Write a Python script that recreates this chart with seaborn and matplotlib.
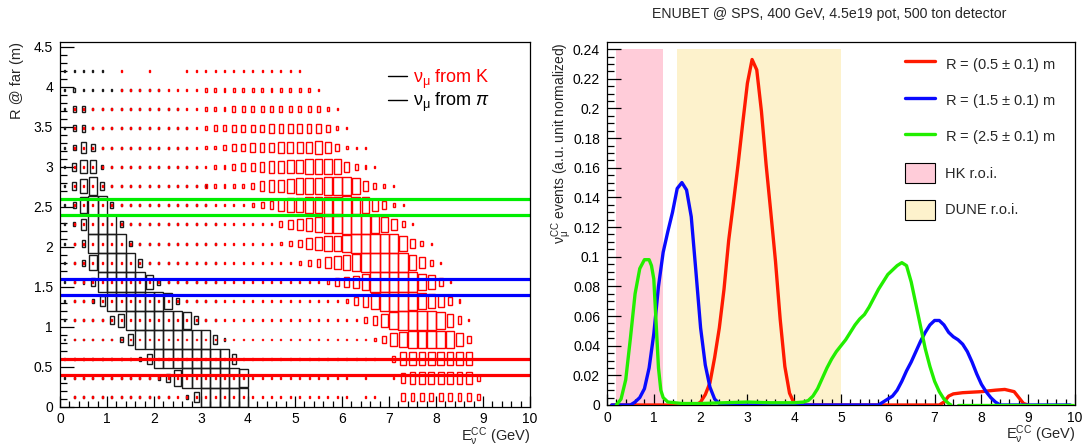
import numpy as np
import pandas as pd
import matplotlib
matplotlib.use("Agg")
import matplotlib.pyplot as plt
from matplotlib.ticker import MultipleLocator, FuncFormatter
from matplotlib.lines import Line2D
from matplotlib.patches import Patch
import seaborn as sns

# ---------------- data : left panel (2D box histograms) ----------------
E_BIN = 0.2      # GeV, bin width along x (50 bins 0..10)
R_BIN = 0.24     # m, bin width along y (19 bins 0..4.56)
# box size code per cell: 0 = empty, 1..9 = 0.1..0.9 of the bin, X = full bin
# rows listed from top (R bin 17, centre 4.20 m) down to bottom (bin 0, centre 0.12 m)
PI_ROWS = [
    "1111100000 0000000000 0000000000 0000000000 0000000000",
    "1211111111 1000000000 0000000000 0000000000 0000000000",
    "1331111111 1110000000 0000000000 0000000000 0000000000",
    "1341111111 1111000000 0000000000 0000000000 0000000000",
    "1364111111 1111000000 0000000000 0000000000 0000000000",
    "1477211111 1111100000 0000000000 0000000000 0000000000",
    "1479411111 1111110000 0000000000 0000000000 0000000000",
    "138XX31111 1111110000 0000000000 0000000000 0000000000",
    "126XXX3111 1111111000 0000000000 0000000000 0000000000",
    "114XXXX311 1111111000 0000000000 0000000000 0000000000",
    "1138XXXX41 1111111000 0000000000 0000000000 0000000000",
    "1124XXXXX7 3111111000 0000000000 0000000000 0000000000",
    "11125XXXXX X831111000 0000000000 0000000000 0000000000",
    "1111147XXX XXX9411000 0000000000 0000000000 0000000000",
    "11111136XX XXXXXX5200 0000000000 0000000000 0000000000",
    "1111111125 XXXXXXXX50 0000000000 0000000000 0000000000",
    "1111111111 248XXXXXX9 0000000000 0000000000 0000000000",
    "0111111111 11025XXXXX 0000000000 0000000000 0000000000",
]
K_ROWS = [
    "0000001001 0001111111 1111110000 0000000000 0000000000",
    "0000001111 1111122222 2222222100 0000000000 0000000000",
    "0111111111 1111122233 3333333321 0000000000 0000000000",
    "0111111111 1111123344 4455555542 1000000000 0000000000",
    "0111111111 1111122344 5556666764 2110000000 0000000000",
    "0111111111 1111112234 4566778888 5321000000 0000000000",
    "0111111111 1111122222 3566788899 9853210000 0000000000",
    "0111111111 1111111111 2346778899 X986421000 0000000000",
    "0111111111 1111111111 1113567899 XXX9863100 0000000000",
    "0111111111 1111111111 1112346788 9XXXXX8531 0000000000",
    "0111111111 1111111111 1111123467 89XXXXX863 1000000000",
    "0111111111 1111111111 1111111124 568XXXXX87 4100000000",
    "0111111111 1111111111 1111111111 2468XXX987 6420000000",
    "0111111111 1111111111 1111111111 113579XXXX 9741000000",
    "0111111111 1111111111 1111111111 1112478999 9974000000",
    "0111111111 1111111111 1111111111 1111037777 7777000000",
    "0111111111 1111111111 1111111111 1010015666 6666300000",
    "0111111111 1111111111 1111111111 1011004444 4444300000",
]
R_CUTS = [(0.4, 0.6), (1.4, 1.6), (2.4, 2.6)]
CUT_COLORS = ["#ff0000", "#0000ff", "#00ee00"]

# ---------------- data : right panel (spectra) ----------------
RED_E = [0.1, 1.9, 2.0, 2.1, 2.2, 2.3, 2.4, 2.5, 2.6, 2.7, 2.8, 2.9, 3.0, 3.1, 3.2,
         3.3, 3.4, 3.5, 3.6, 3.7, 3.8, 3.9, 4.0, 4.1, 7.1, 7.2, 7.3, 7.4, 7.6, 8.0,
         8.3, 8.5, 8.7, 8.8, 8.9, 9.0]
RED_Y = [0.0, 0.0, 0.002, 0.007, 0.015, 0.032, 0.052, 0.078, 0.111, 0.136, 0.162,
         0.19, 0.217, 0.233, 0.226, 0.198, 0.162, 0.13, 0.097, 0.058, 0.026, 0.008,
         0.001, 0.0, 0.0, 0.002, 0.006, 0.0075, 0.0083, 0.009, 0.010, 0.0105, 0.009,
         0.005, 0.001, 0.0]
BLUE_E = [0.1, 0.5, 0.6, 0.7, 0.8, 0.9, 1.0, 1.1, 1.2, 1.3, 1.4, 1.5, 1.6, 1.7, 1.8,
          1.9, 2.0, 2.1, 2.2, 2.3, 2.4, 2.5, 5.8, 5.9, 6.0, 6.1, 6.2, 6.3, 6.4, 6.5,
          6.6, 6.7, 6.8, 6.9, 7.0, 7.1, 7.2, 7.3, 7.4, 7.5, 7.6, 7.7, 7.8, 7.9, 8.0,
          8.1, 8.2, 8.3, 8.4, 9.9]
BLUE_Y = [0.0, 0.0, 0.002, 0.005, 0.011, 0.025, 0.048, 0.08, 0.103, 0.117, 0.13,
          0.146, 0.15, 0.145, 0.127, 0.09, 0.052, 0.027, 0.012, 0.004, 0.001, 0.0,
          0.0, 0.002, 0.004, 0.006, 0.010, 0.016, 0.023, 0.029, 0.036, 0.043, 0.049,
          0.054, 0.057, 0.057, 0.054, 0.049, 0.046, 0.044, 0.041, 0.036, 0.029,
          0.021, 0.014, 0.009, 0.005, 0.002, 0.0, 0.0]
GREEN_E = [0.2, 0.3, 0.4, 0.5, 0.6, 0.7, 0.8, 0.9, 0.95, 1.0, 1.05, 1.1, 1.15, 1.2,
           1.3, 1.6, 2.0, 2.5, 3.0, 3.5, 4.0, 4.2, 4.3, 4.4, 4.5, 4.6, 4.7, 4.8, 4.9,
           5.0, 5.1, 5.2, 5.3, 5.4, 5.5, 5.6, 5.7, 5.8, 5.9, 6.0, 6.1, 6.2, 6.3, 6.4,
           6.5, 6.6, 6.7, 6.8, 6.9, 7.0, 7.1, 7.2, 7.3, 7.35]
GREEN_Y = [0.0, 0.004, 0.017, 0.045, 0.075, 0.092, 0.098, 0.098, 0.094, 0.085, 0.055,
           0.025, 0.010, 0.005, 0.002, 0.001, 0.001, 0.0015, 0.002, 0.0015, 0.0015,
           0.002, 0.003, 0.006, 0.011, 0.018, 0.025, 0.031, 0.036, 0.040, 0.044,
           0.049, 0.054, 0.058, 0.061, 0.066, 0.072, 0.078, 0.083, 0.088, 0.091,
           0.094, 0.096, 0.094, 0.083, 0.068, 0.053, 0.038, 0.026, 0.016, 0.009,
           0.004, 0.001, 0.0]
GREEN_TAIL_E = [7.5, 9.95]
GREEN_TAIL_Y = [0.0, 0.0]
HK_ROI = (0.2, 1.2)
DUNE_ROI = (1.5, 5.0)
ROI_TOP = 0.24
SERIES_LABELS = [r"R = (0.5 $\pm$ 0.1) m", r"R = (1.5 $\pm$ 0.1) m", r"R = (2.5 $\pm$ 0.1) m"]
LINE_COLORS = ["#ff1a00", "#0a0aff", "#22ee00"]
PINK = "#ffccd9"
YELLOW = "#fdf2cc"
TITLE = "ENUBET @ SPS, 400 GeV, 4.5e19 pot, 500 ton detector"

# ---------------- style ----------------
sns.set_theme(style="white")
plt.rcParams["font.family"] = ["Liberation Sans", "DejaVu Sans"]
plt.rcParams["mathtext.fontset"] = "custom"
plt.rcParams["mathtext.rm"] = "Liberation Sans"
plt.rcParams["mathtext.it"] = "Liberation Sans:italic"
plt.rcParams["mathtext.sf"] = "Liberation Sans"
plt.rcParams["axes.edgecolor"] = "black"
plt.rcParams["axes.linewidth"] = 0.9

W, H = 1092, 446
fig = plt.figure(figsize=(W / 100, H / 100), dpi=100)
ax1 = fig.add_axes([60 / W, 39.3 / H, 470 / W, 364.7 / H])
ax2 = fig.add_axes([607 / W, 41 / H, 468 / W, 362.7 / H])

gfmt = FuncFormatter(lambda v, p: "%g" % round(v, 6))


def style_axis(ax, xmin_loc, ymaj, ymin):
    ax.xaxis.set_major_locator(MultipleLocator(1))
    ax.xaxis.set_minor_locator(MultipleLocator(xmin_loc))
    ax.yaxis.set_major_locator(MultipleLocator(ymaj))
    ax.yaxis.set_minor_locator(MultipleLocator(ymin))
    ax.xaxis.set_major_formatter(gfmt)
    ax.yaxis.set_major_formatter(gfmt)
    ax.tick_params(which="both", direction="in", colors="black", labelsize=10,
                   top=False, right=False, bottom=True, left=True, width=0.9)
    ax.tick_params(axis="y", which="major", length=10, pad=5)
    ax.tick_params(axis="y", which="minor", length=5)
    ax.tick_params(axis="x", which="major", length=8, pad=4)
    ax.tick_params(axis="x", which="minor", length=4)
    for s in ax.spines.values():
        s.set_visible(True)
        s.set_color("black")


def draw_boxes(ax, rows, color):
    xs, ys, fs = [], [], []
    nrows = len(rows)
    for k, row in enumerate(rows):
        j = nrows - 1 - k
        cells = row.replace(" ", "")
        for i, ch in enumerate(cells):
            if ch == "0":
                continue
            f = 1.0 if ch == "X" else int(ch) / 10.0
            xs.append((i + 0.5) * E_BIN)
            ys.append((j + 0.5) * R_BIN)
            fs.append(f)
    xs, ys, fs = map(np.array, (xs, ys, fs))
    ax.bar(xs, fs * R_BIN, width=fs * E_BIN, bottom=ys - fs * R_BIN / 2,
           fill=False, edgecolor=color, linewidth=1.0, align="center")


# ---------------- left panel ----------------
draw_boxes(ax1, PI_ROWS, "#1a1a1a")
draw_boxes(ax1, K_ROWS, "#ff0000")
for (lo, hi), c in zip(R_CUTS, CUT_COLORS):
    ax1.axhline(lo, color=c, lw=2.3)
    ax1.axhline(hi, color=c, lw=2.3)
ax1.set_xlim(0, 10)
ax1.set_ylim(0, 4.56)
style_axis(ax1, 0.2, 0.5, 0.1)
ax1.set_xlabel("")
ax1.set_ylabel("")
ax1.text(1.0, -0.051, r"$\mathregular{E_{\nu}^{CC}}$ (GeV)", transform=ax1.transAxes,
         ha="right", va="top", fontsize=10.5)
ax1.text(-0.092, 1.0, "R @ far (m)", transform=ax1.transAxes, rotation=90,
         ha="center", va="top", fontsize=10.5)
leg1 = ax1.legend(handles=[Line2D([], [], color="black", lw=1.0),
                           Line2D([], [], color="black", lw=1.0)],
                  labels=[r"$\mathregular{\nu_{\mu}}$ from K", r"$\mathregular{\nu_{\mu}}$ from $\pi$"],
                  loc="upper left", bbox_to_anchor=(0.697, 0.93), frameon=False,
                  fontsize=13, handlelength=1.1, handletextpad=0.3, borderpad=0,
                  borderaxespad=0, labelspacing=0.02)
leg1.get_texts()[0].set_color("#ff0000")
leg1.get_texts()[1].set_color("black")

# ---------------- right panel ----------------
ax2.fill_between(list(HK_ROI), 0, ROI_TOP, color=PINK, lw=0, zorder=0)
ax2.fill_between(list(DUNE_ROI), 0, ROI_TOP, color=YELLOW, lw=0, zorder=0)
series = [(RED_E, RED_Y), (BLUE_E, BLUE_Y), (GREEN_E, GREEN_Y)]
for (ex, ey), c, lab in zip(series, LINE_COLORS, SERIES_LABELS):
    df = pd.DataFrame({"E": ex, "y": ey})
    sns.lineplot(data=df, x="E", y="y", color=c, lw=2.4, ax=ax2, estimator=None,
                 sort=False, zorder=3)
sns.lineplot(x=GREEN_TAIL_E, y=GREEN_TAIL_Y, color=LINE_COLORS[2], lw=2.4, ax=ax2,
             estimator=None, sort=False, zorder=3)
ax2.set_xlim(0, 10)
ax2.set_ylim(0, 0.2446)
style_axis(ax2, 0.2, 0.02, 0.005)
ax2.set_xlabel("")
ax2.set_ylabel("")
ax2.text(1.0, -0.051, r"$\mathregular{E_{\nu}^{CC}}$ (GeV)", transform=ax2.transAxes,
         ha="right", va="top", fontsize=10.5)
ax2.text(-0.097, 1.0, r"$\mathregular{\nu_{\mu}^{CC}}$ events (a.u. unit normalized)",
         transform=ax2.transAxes, rotation=90, ha="center", va="top", fontsize=10)
handles = [Line2D([], [], color=c, lw=2.4) for c in LINE_COLORS]
handles += [Patch(facecolor=PINK, edgecolor="black", lw=0.8),
            Patch(facecolor=YELLOW, edgecolor="black", lw=0.8)]
labels = SERIES_LABELS + ["HK r.o.i.", "DUNE r.o.i."]
ax2.legend(handles=handles, labels=labels, loc="upper left",
           bbox_to_anchor=(905 / W, 1 - 54 / H), bbox_transform=fig.transFigure,
           frameon=False, fontsize=10.5, handlelength=2.05, handleheight=1.7,
           handletextpad=0.7, borderpad=0, borderaxespad=0, labelspacing=1.15)

fig.text(829 / W, 1 - 14 / H, TITLE, ha="center", va="center", fontsize=10.2)

fig.savefig("out.png", dpi=100)
